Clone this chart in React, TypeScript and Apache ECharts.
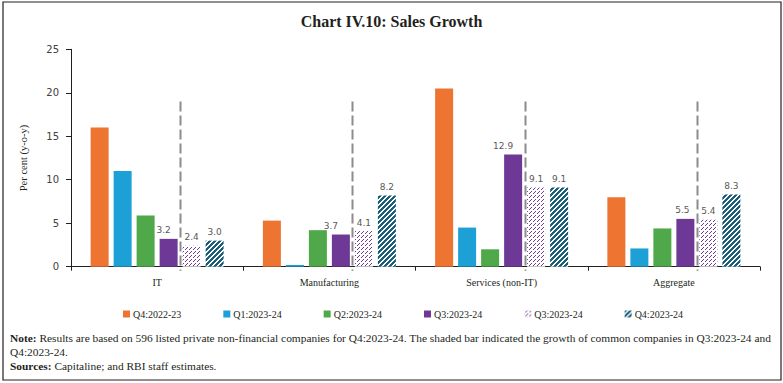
import React, { useEffect, useRef } from "react";
import * as echarts from "echarts";

const categories = ["IT", "Manufacturing", "Services (non-IT)", "Aggregate"];
const seriesNames = ["Q4:2022-23", "Q1:2023-24", "Q2:2023-24", "Q3:2023-24", "Q3:2023-24 ", "Q4:2023-24"];
const q4_2022_23 = [16.0, 5.3, 20.5, 8.0];
const q1_2023_24 = [11.0, 0.2, 4.5, 2.1];
const q2_2023_24 = [5.9, 4.2, 2.0, 4.4];
const q3_2023_24 = [3.2, 3.7, 12.9, 5.5];
const q3_2023_24_common = [2.4, 4.1, 9.1, 5.4];
const q4_2023_24_common = [3.0, 8.2, 9.1, 8.3];
const dividerTop = 19;
const yTicks = { min: 0, max: 25, interval: 5 };

const BAR_W = 18;
const BAR_GAP_PX = 5;

export default function App() {
  const ref = useRef<HTMLDivElement>(null);
  useEffect(() => {
    if (!ref.current) return;
    const chart = echarts.init(ref.current, undefined, { renderer: "svg" });
    const serif = "Liberation Serif";
    const sans = "DejaVu Sans";
    const labelStyle = {
      show: true,
      position: "top" as const,
      distance: 4,
      color: "#595959",
      fontFamily: sans,
      fontSize: 9,
      formatter: (p: any) => Number(p.value).toFixed(1),
    };
    const purpleShift = [-5, -10, -10, -3];
    const solidColors = ["#ED7431", "#1CA0D6", "#4FA84A", "#6E3996"];
    const solidData = [q4_2022_23, q1_2023_24, q2_2023_24, q3_2023_24];
    const series: any[] = solidData.map((d, i) => ({
      type: "bar",
      name: seriesNames[i],
      data:
        i === 3
          ? d.map((v, j) => ({ value: v, label: { offset: [purpleShift[j], 0] } }))
          : d,
      barWidth: BAR_W,
      barGap: (BAR_GAP_PX / BAR_W) * 100 + "%",
      itemStyle: { color: solidColors[i] },
      label: i === 3 ? labelStyle : { show: false },
    }));
    // "/" diagonal dashed thin lines (staircase, rows of 1px going down shift left)
    const thinHatch = {
      symbol: "rect",
      symbolSize: 1,
      color: "#6E3996",
      dashArrayX: [
        [0, 3, 1, 0],
        [0, 2, 1, 1],
        [0, 1, 1, 2],
        [0, 4],
      ],
      dashArrayY: [1, 0],
    };
    // "/" thick diagonal stripes
    const thickHatch = {
      symbol: "rect",
      symbolSize: 1,
      color: "#1A5E78",
      dashArrayX: [
        [3, 2],
        [2, 2, 1, 0],
        [1, 2, 2, 0],
        [0, 2, 3, 0],
        [0, 1, 3, 1],
      ],
      dashArrayY: [1, 0],
    };
    series.push({
      type: "bar",
      name: seriesNames[4],
      data: q3_2023_24_common,
      barWidth: BAR_W,
      itemStyle: { color: "#ffffff", decal: thinHatch },
      label: labelStyle,
    });
    series.push({
      type: "bar",
      name: seriesNames[5],
      data: q4_2023_24_common,
      barWidth: BAR_W,
      itemStyle: { color: "#ffffff", decal: thickHatch },
      label: labelStyle,
    });
    series.push({
      type: "custom",
      name: "divider",
      data: categories.map((_, i) => [i, dividerTop]),
      z: 5,
      renderItem: (params: any, api: any) => {
        const idx = api.value(0);
        const top = api.coord([idx, api.value(1)]);
        const base = api.coord([idx, 0]);
        const x = Math.round(top[0] + BAR_W + BAR_GAP_PX) + 0.5;
        return {
          type: "line",
          shape: { x1: x, y1: top[1], x2: x, y2: base[1] + 4 },
          style: { stroke: "#8c8c8c", lineWidth: 2, lineDash: [10, 4] },
        };
      },
    });

    chart.setOption({
      animation: false,
      backgroundColor: "#ffffff",
      title: {
        text: "Chart IV.10: Sales Growth",
        left: "center",
        top: 8,
        textStyle: { fontFamily: serif, fontSize: 16, fontWeight: "bold", color: "#231f20" },
      },
      grid: { left: 71, right: 23, top: 49.3, bottom: 116.3 },
      legend: {
        data: seriesNames,
        left: 118,
        top: 304,
        itemWidth: 7,
        itemHeight: 7,
        itemGap: 42,
        icon: "rect",
        formatter: (n: string) => n.trim(),
        textStyle: { fontFamily: serif, fontSize: 10, color: "#231f20", padding: [0, 0, 0, -2] },
      },
      xAxis: {
        type: "category",
        data: categories,
        axisLine: { lineStyle: { color: "#231f20", width: 1 } },
        axisTick: { show: true, length: 4, lineStyle: { color: "#231f20" } },
        axisLabel: { fontFamily: serif, fontSize: 10, color: "#231f20", margin: 11 },
      },
      yAxis: {
        type: "value",
        min: yTicks.min,
        max: yTicks.max,
        interval: yTicks.interval,
        name: "Per cent (y-o-y)",
        nameLocation: "middle",
        nameGap: 42,
        nameTextStyle: { fontFamily: serif, fontSize: 10.5, color: "#231f20" },
        splitLine: { show: false },
        axisLine: { show: true, lineStyle: { color: "#231f20", width: 1 } },
        axisTick: { show: true, length: 5, lineStyle: { color: "#231f20" } },
        axisLabel: { fontFamily: sans, fontSize: 10, color: "#404040", margin: 12 },
      },
      series,
      graphic: [
        {
          type: "rect",
          shape: { x: 3, y: 2, width: 778, height: 378 },
          style: { fill: "none", stroke: "#231f20", lineWidth: 1.2 },
          silent: true,
        },
        {
          type: "text",
          left: 10,
          top: 332,
          style: {
            text: "{b|Note:} Results are based on 596 listed private non-financial companies for Q4:2023-24. The shaded bar indicated the growth of common companies in Q3:2023-24 and",
            fontFamily: serif,
            fontSize: 11.4,
            fill: "#231f20",
            rich: { b: { fontWeight: "bold", fontFamily: serif, fontSize: 11.4 } },
          },
        },
        {
          type: "text",
          left: 10,
          top: 346,
          style: { text: "Q4:2023-24.", fontFamily: serif, fontSize: 11.4, fill: "#231f20" },
        },
        {
          type: "text",
          left: 10,
          top: 360,
          style: {
            text: "{b|Sources:} Capitaline; and RBI staff estimates.",
            fontFamily: serif,
            fontSize: 11.4,
            fill: "#231f20",
            rich: { b: { fontWeight: "bold", fontFamily: serif, fontSize: 11.4 } },
          },
        },
      ],
    });
    return () => chart.dispose();
  }, []);
  return (
    <div
      ref={ref}
      style={{ position: "absolute", left: 0, top: 0, width: 783, height: 383 }}
    />
  );
}
